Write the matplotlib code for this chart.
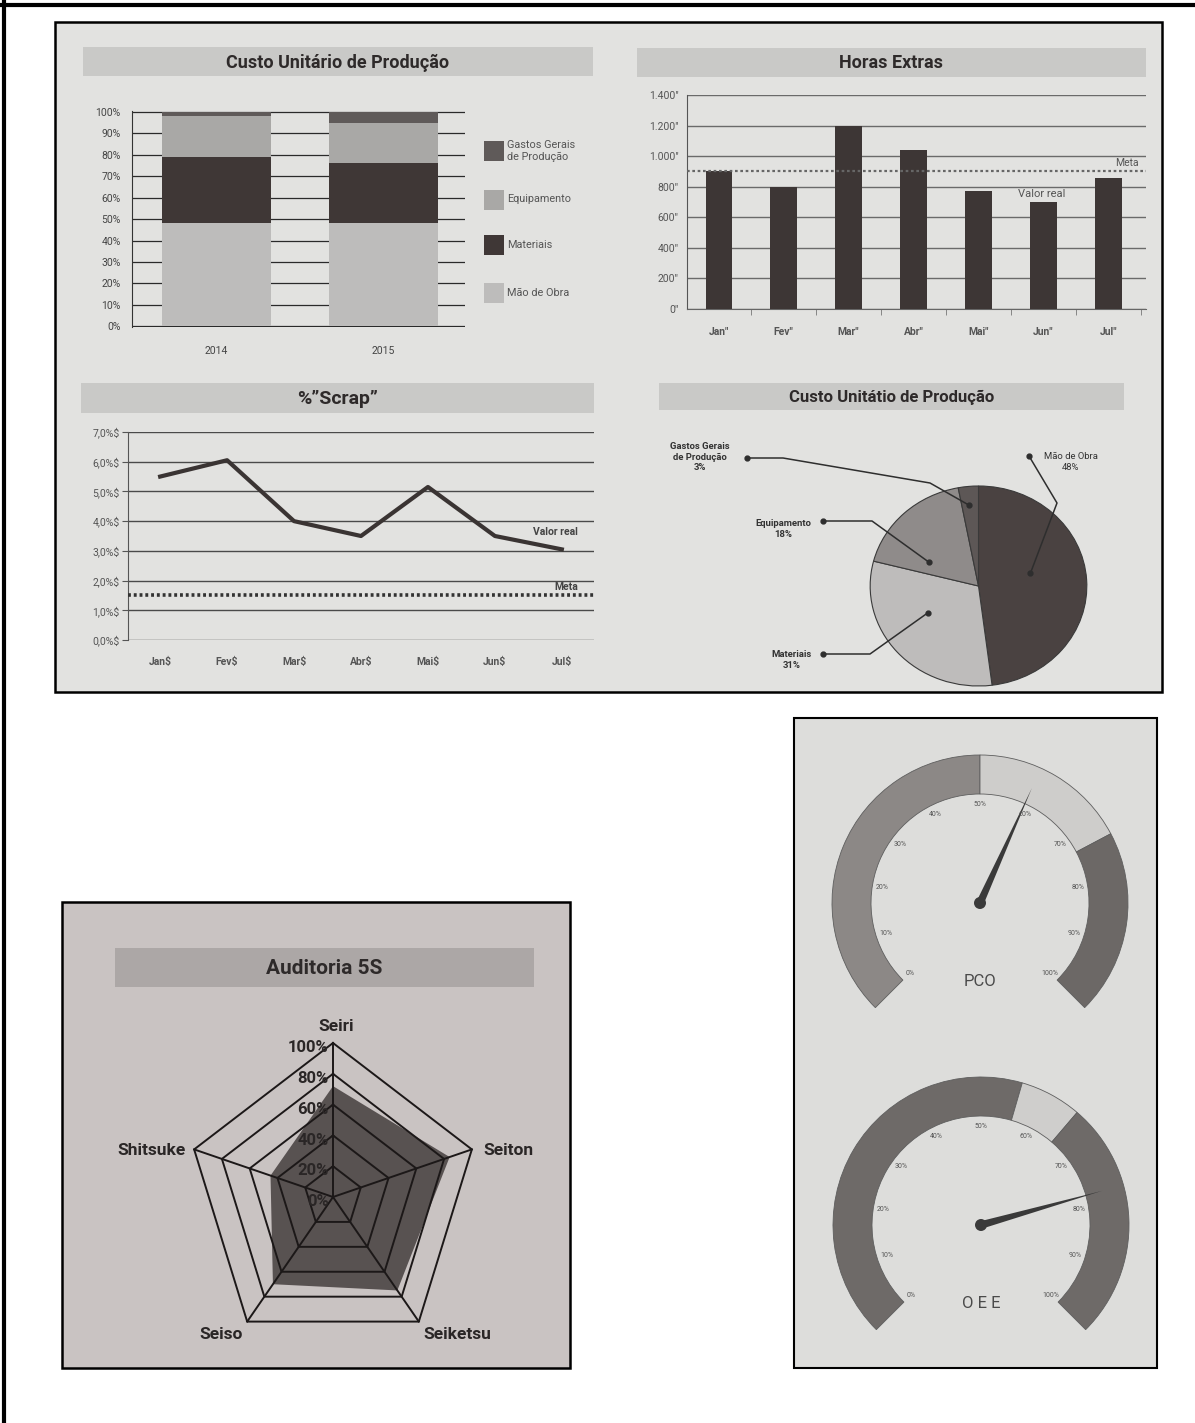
import matplotlib
matplotlib.use("Agg")
import matplotlib.pyplot as plt
import numpy as np
from matplotlib.patches import Rectangle, Wedge, Polygon, Circle

plt.rcParams['font.family'] = ['Roboto', 'DejaVu Sans']

W, H = 1195, 1423

# ---------------- data ----------------
cost_years = ["2014", "2015"]
cost_series = ["Mão de Obra", "Materiais", "Equipamento", "Gastos Gerais\nde Produção"]
cost_mao = [48, 48]
cost_materiais = [31, 28]
cost_equip = [19, 19]
cost_gastos = [2, 5]
cost_ticks = ["0%", "10%", "20%", "30%", "40%", "50%", "60%", "70%", "80%", "90%", "100%"]

he_months = ['Jan"', 'Fev"', 'Mar"', 'Abr"', 'Mai"', 'Jun"', 'Jul"']
he_values = [905, 800, 1200, 1040, 770, 700, 860]
he_meta = 900
he_ticks = ['0"', '200"', '400"', '600"', '800"', '1.000"', '1.200"', '1.400"']

scrap_months = ['Jan$', 'Fev$', 'Mar$', 'Abr$', 'Mai$', 'Jun$', 'Jul$']
scrap_values = [5.5, 6.05, 4.0, 3.5, 5.15, 3.5, 3.05]
scrap_meta = 1.5
scrap_ticks = ['0,0%$', '1,0%$', '2,0%$', '3,0%$', '4,0%$', '5,0%$', '6,0%$', '7,0%$']

pie_labels = ['Mão de Obra', 'Materiais', 'Equipamento', 'Gastos Gerais\nde Produção']
pie_values = [48, 31, 18, 3]

radar_axes = ['Seiri', 'Seiton', 'Seiketsu', 'Seiso', 'Shitsuke']
radar_values = [0.72, 0.84, 0.75, 0.70, 0.45]
radar_levels = [0.0, 0.2, 0.4, 0.6, 0.8, 1.0]
radar_level_labels = ['0%', '20%', '40%', '60%', '80%', '100%']

gauge_names = ['PCO', 'O E E']
pco_bands = [0.0, 0.50, 0.73, 1.0]
oee_bands = [0.0, 0.56, 0.65, 1.0]
gauge_needles = [0.59, 0.775]
gauge_ticks = ['0%', '10%', '20%', '30%', '40%', '50%', '60%', '70%', '80%', '90%', '100%']

# ---------------- styles ----------------
cost_colors = ['#bdbcbb', '#3f3736', '#a9a8a6', '#5f5a59']
pie_colors = ['#4a4241', '#bebcbb', '#8f8b8a', '#5d5756']
pco_colors = ['#8c8886', '#cecdcb', '#6c6866']
oee_colors = ['#6e6a68', '#cfcecc', '#6e6a68']

fig = plt.figure(figsize=(W / 100, H / 100), dpi=100)
fig.patch.set_facecolor('white')


def px(x, y, w, h):
    return [x / W, 1 - (y + h) / H, w / W, h / H]


bg = fig.add_axes([0, 0, 1, 1], zorder=0)
bg.set_xlim(0, W)
bg.set_ylim(H, 0)
bg.axis('off')

# page border
bg.plot([0, W], [5, 5], color='black', lw=3, solid_capstyle='butt')
bg.plot([4, 4], [0, H], color='black', lw=3, solid_capstyle='butt')

# panels
bg.add_patch(Rectangle((55, 22), 1107, 670, fc='#e2e2e0', ec='black', lw=1.8))
bg.add_patch(Rectangle((62, 902), 508, 466, fc='#c9c3c2', ec='black', lw=1.8))
bg.add_patch(Rectangle((794, 718), 363, 650, fc='#dddddb', ec='black', lw=1.5))


def title_bar(x0, y0, x1, y1, text, fs, fc='#c9c9c7'):
    bg.add_patch(Rectangle((x0, y0), x1 - x0, y1 - y0, fc=fc, ec='none'))
    bg.text((x0 + x1) / 2, (y0 + y1) / 2 + 1, text, ha='center', va='center',
            fontsize=fs, fontweight='bold', color='#2e2a2a')


title_bar(83, 47, 593, 76, "Custo Unitário de Produção", 13)
title_bar(637, 48, 1146, 77, "Horas Extras", 13)
title_bar(81, 383, 594, 413, "%\u201dScrap\u201d", 14)
title_bar(659, 383, 1124, 410, "Custo Unitátio de Produção", 12)
title_bar(115, 948, 534, 987, "Auditoria 5S", 15, fc='#aca7a6')

# ---------------- stacked bars ----------------
ax1 = fig.add_axes(px(132, 111, 333, 216), zorder=2)
ax1.patch.set_alpha(0)
xc = np.arange(len(cost_years))
bottom = np.zeros(len(cost_years))
for vals, col in zip([cost_mao, cost_materiais, cost_equip, cost_gastos], cost_colors):
    ax1.bar(xc, vals, width=0.655, bottom=bottom, color=col, zorder=2)
    bottom += np.array(vals)
ax1.set_xlim(-0.507, 1.49)
ax1.set_ylim(-0.3, 100.4)
ax1.set_yticks(range(0, 101, 10))
ax1.set_yticklabels(cost_ticks)
ax1.yaxis.grid(True, color='#2a2a2a', lw=0.9)
ax1.set_axisbelow(True)
for s in ['top', 'right', 'bottom']:
    ax1.spines[s].set_visible(False)
ax1.spines['left'].set_color('#333')
ax1.tick_params(axis='y', length=0, pad=8, labelsize=7.5, labelcolor='#444')
ax1.set_xticks(xc)
ax1.set_xticklabels(cost_years)
ax1.tick_params(axis='x', length=0, pad=14, labelsize=7.5, labelcolor='#444')

leg_y = [292.5, 244.5, 199.5, 151]
for name, col, yc in zip(cost_series, cost_colors, leg_y):
    bg.add_patch(Rectangle((484, yc - 10), 20, 20, fc=col, ec='none'))
    bg.text(507, yc, name, ha='left', va='center', fontsize=7.8, color='#555',
            linespacing=1.15)

# ---------------- horas extras ----------------
ax2 = fig.add_axes(px(687, 95, 459, 214), zorder=2)
ax2.patch.set_alpha(0)
xm = np.arange(len(he_months))
ax2.bar(xm, he_values, width=0.41, color='#3d3635', zorder=3)
ax2.axhline(he_meta, color='#666', ls=(0, (1.2, 1.2)), lw=1.6, zorder=4)
ax2.set_xlim(-0.49, 6.58)
ax2.set_ylim(0, 1400)
ax2.set_yticks(range(0, 1401, 200))
ax2.set_yticklabels(he_ticks)
ax2.yaxis.grid(True, color='#6a6a6a', lw=1.0)
ax2.set_axisbelow(True)
for s in ['top', 'right']:
    ax2.spines[s].set_visible(False)
ax2.spines['left'].set_color('#555')
ax2.spines['bottom'].set_color('#666')
ax2.set_xticks(xm)
ax2.set_xticklabels(he_months, fontweight='bold')
ax2.set_xticks(xm + 0.5, minor=True)
ax2.tick_params(axis='x', which='major', length=0, pad=13, labelsize=7.5, labelcolor='#555')
ax2.tick_params(axis='x', which='minor', length=4, color='#777')
ax2.tick_params(axis='y', length=0, pad=6, labelsize=7.5, labelcolor='#555')
ax2.text(6.47, 955, "Meta", ha='right', va='center', fontsize=7.5, color='#555')
ax2.text(4.97, 752, "Valor real", ha='center', va='center', fontsize=8, color='#555')

# ---------------- scrap ----------------
ax3 = fig.add_axes(px(128, 432, 466, 208), zorder=2)
ax3.patch.set_alpha(0)
ax3.plot(xm, scrap_values, color='#3a3433', lw=3, zorder=4)
ax3.axhline(scrap_meta, color='#333', ls=(0, (0.8, 0.8)), lw=2.6, zorder=3)
ax3.set_xlim(-0.48, 6.48)
ax3.set_ylim(0, 7)
ax3.set_yticks(range(0, 8))
ax3.set_yticklabels(scrap_ticks)
ax3.yaxis.grid(True, color='#4a4a4a', lw=1.0)
ax3.set_axisbelow(True)
for s in ['top', 'right', 'bottom']:
    ax3.spines[s].set_visible(False)
ax3.spines['left'].set_color('#555')
ax3.set_xticks(xm)
ax3.set_xticklabels(scrap_months, fontweight='bold')
ax3.tick_params(axis='x', length=0, pad=12, labelsize=7.5, labelcolor='#555')
ax3.tick_params(axis='y', length=4, color='#555', pad=2, labelsize=7.5, labelcolor='#555')
ax3.text(6.24, 3.63, "Valor real", ha='right', va='center', fontsize=7.5,
         fontweight='bold', color='#444')
ax3.text(6.24, 1.78, "Meta", ha='right', va='center', fontsize=7.5,
         fontweight='bold', color='#444')

# ---------------- pie ----------------
ax4 = fig.add_axes(px(868, 484, 221, 204), zorder=2)
ax4.pie(pie_values, colors=pie_colors, startangle=90, counterclock=False,
        wedgeprops=dict(edgecolor='#3a3a3a', linewidth=0.8))
ax4.set_aspect('auto')
ax4.set_xlim(-1.02, 1.02)
ax4.set_ylim(-1.02, 1.02)

ov = fig.add_axes([0, 0, 1, 1], zorder=10)
ov.set_xlim(0, W)
ov.set_ylim(H, 0)
ov.axis('off')


def pie_pt(x, y):
    return ov.transData.inverted().transform(ax4.transData.transform((x, y)))


pie_callouts = [
    (pie_labels[0] + "\n48%", (1071, 462), (1029, 456), [(1057, 503)], (0.48, 0.13), 'normal'),
    (pie_labels[1] + "\n31%", (792, 660), (823, 654), [(870, 654)], (-0.47, -0.27), 'bold'),
    (pie_labels[2] + "\n18%", (783, 529), (823, 521), [(872, 521)], (-0.46, 0.24), 'bold'),
    (pie_labels[3] + "\n3%", (700, 457), (747, 458), [(783, 458), (930, 483)], (-0.09, 0.81), 'bold'),
]
for text, tpos, dot, elbows, inner, wt in pie_callouts:
    ip = pie_pt(*inner)
    pts = np.array([dot] + elbows + [tuple(ip)])
    ov.plot(pts[:, 0], pts[:, 1], color='#2e2e2e', lw=1.1)
    ov.plot([dot[0], ip[0]], [dot[1], ip[1]], 'o', color='#2e2e2e', ms=3.5, ls='none')
    ov.text(tpos[0], tpos[1], text, ha='center', va='center', fontsize=6.8,
            fontweight=wt, color='#333', linespacing=1.25)

# ---------------- radar ----------------
cx, cy = 333, 1197
rx, ry = 146, 154
ax5 = fig.add_axes(px(cx - 1.3 * rx, cy - 1.3 * ry, 2.6 * rx, 2.6 * ry), zorder=2)
ax5.set_xlim(-1.3, 1.3)
ax5.set_ylim(-1.3, 1.3)
ax5.axis('off')
ang = np.deg2rad(90 - 72 * np.arange(len(radar_axes)))
vals = np.array(radar_values)
ax5.fill(vals * np.cos(ang), vals * np.sin(ang), color='#4f4848', alpha=0.92, zorder=2, lw=0)
for lev in radar_levels[1:]:
    ax5.plot(np.r_[lev * np.cos(ang), lev * np.cos(ang[0])],
             np.r_[lev * np.sin(ang), lev * np.sin(ang[0])],
             color='#1c1818', lw=1.4, zorder=3)
for a in ang:
    ax5.plot([0, np.cos(a)], [0, np.sin(a)], color='#1c1818', lw=1.4, zorder=3)
for lev, lab in zip(radar_levels, radar_level_labels):
    ax5.text(-0.03, lev - 0.03, lab, ha='right', va='center', fontsize=12,
             fontweight='bold', color='#2a2626', zorder=4)
radar_label_pos = [(0.02, 1.11, 'center'), (1.03, 0.30, 'left'), (0.62, -0.89, 'left'),
                   (-0.62, -0.89, 'right'), (-1.01, 0.30, 'right')]
for name, (lx, ly, ha) in zip(radar_axes, radar_label_pos):
    ax5.text(lx, ly, name, ha=ha, va='center', fontsize=12.5, fontweight='bold',
             color='#2a2626', zorder=4)

# ---------------- gauges ----------------
R_OUT, R_IN = 148, 109


def gauge(gx, gy, bands, colors, needle, name):
    ax = fig.add_axes(px(gx - 165, gy - 165, 330, 330), zorder=3)
    ax.set_xlim(-165, 165)
    ax.set_ylim(-165, 165)
    ax.axis('off')
    for a, b, col in zip(bands[:-1], bands[1:], colors):
        ax.add_patch(Wedge((0, 0), R_OUT, 225 - 270 * b, 225 - 270 * a,
                           width=R_OUT - R_IN, fc=col, ec='#5e5e5e', lw=0.6))
    for i, lab in enumerate(gauge_ticks):
        th = np.deg2rad(225 - 270 * i / (len(gauge_ticks) - 1))
        ax.text(99 * np.cos(th), 99 * np.sin(th), lab, fontsize=5, ha='center',
                va='center', color='#555')
    th = np.deg2rad(225 - 270 * needle)
    L, w = 126, 3.8
    tip = np.array([L * np.cos(th), L * np.sin(th)])
    perp = np.array([-np.sin(th), np.cos(th)]) * w
    ax.add_patch(Polygon([perp, tip, -perp], closed=True, fc='#3a3a3a', ec='none'))
    ax.add_patch(Circle((0, 0), 6, fc='#3a3a3a', ec='none'))
    ax.text(0, -78, name, ha='center', va='center', fontsize=12, color='#4a4a4a')


gauge(980, 903, pco_bands, pco_colors, gauge_needles[0], gauge_names[0])
gauge(981, 1225, oee_bands, oee_colors, gauge_needles[1], gauge_names[1])

fig.savefig("out.png", dpi=100, facecolor='white')
